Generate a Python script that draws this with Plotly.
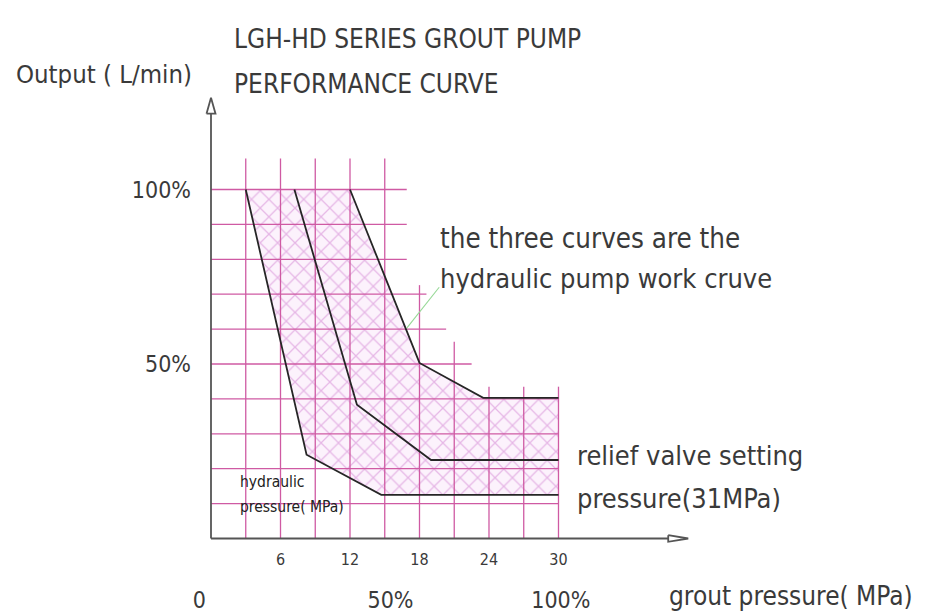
import plotly.graph_objects as go

# ---------------- data (MPa on x, % of max output on y) ----------------
curve_a_x = [3.0, 8.25, 14.7, 30.0]
curve_a_y = [100, 24.0, 12.5, 12.5]
curve_b_x = [7.2, 12.6, 19.0, 30.0]
curve_b_y = [100, 38.3, 22.5, 22.5]
curve_c_x = [12.0, 18.0, 23.5, 30.0]
curve_c_y = [100, 50.3, 40.3, 40.3]

grid_h_levels = [100, 90, 80, 70, 60, 50, 40, 30, 20, 10]
grid_h_ends = [16.9, 16.9, 16.9, 18.6, 20.3, 22.5, 30, 30, 30, 30]
grid_v_positions = [3, 6, 9, 12, 15, 18, 21, 24, 27, 30]
grid_v_tops = [108.9, 108.9, 108.9, 108.9, 108.9, 72.6, 56.4, 43.5, 43.5, 43.5]

x_tick_vals = [6, 12, 18, 24, 30]
x_tick_text = ["6", "12", "18", "24", "30"]
y_tick_vals = [100, 50]
y_tick_text = ["100%", "50%"]
pct_tick_vals = [-1.0, 15.5, 30.2]
pct_tick_text = ["0", "50%", "100%"]

leader_x = [16.9, 19.7]
leader_y = [60.3, 72.0]

x_axis_end = 41.2     # MPa where the x arrow tip sits
y_axis_end = 126.3    # % where the y arrow tip sits

# ---------------- layout geometry ----------------
# the page body keeps an 8px margin, so the figure is 8px smaller than the window
W, H = 933, 606
X0_PX, PX_PER_X = 203.0, 11.583
Y0_PX, PX_PER_Y = 530.5, 3.49
x_range = [-X0_PX / PX_PER_X, (W - X0_PX) / PX_PER_X]
y_range = [-(H - Y0_PX) / PX_PER_Y, Y0_PX / PX_PER_Y]

FONT = "Liberation Sans Narrow, DejaVu Sans Condensed, Liberation Sans, sans-serif"
TXT = "#3a3a3a"
GRID = "#cf5aa3"
HATCH = "#cf7ccf"
CURVE = "#262626"
AXIS = "#555555"

fig = go.Figure()

# hatched envelope between the lowest and highest curve
poly_x = curve_a_x + curve_c_x[::-1] + [curve_a_x[0]]
poly_y = curve_a_y + curve_c_y[::-1] + [curve_a_y[0]]
fig.add_trace(go.Scatter(
    x=poly_x, y=poly_y, mode="lines", fill="toself",
    line=dict(width=0, color="rgba(0,0,0,0)"),
    fillcolor="#fcf2fc",
    fillpattern=dict(shape="x", fgcolor=HATCH, bgcolor="#fcf2fc", size=12.3, solidity=0.2),
    hoverinfo="skip", showlegend=False))

# grid
gx, gy = [], []
for lvl, end in zip(grid_h_levels, grid_h_ends):
    gx += [0, end, None]
    gy += [lvl, lvl, None]
for pos, top in zip(grid_v_positions, grid_v_tops):
    gx += [pos, pos, None]
    gy += [0, top, None]
fig.add_trace(go.Scatter(x=gx, y=gy, mode="lines", line=dict(color=GRID, width=1.3),
                         hoverinfo="skip", showlegend=False))

# curves
for cx, cy in [(curve_a_x, curve_a_y), (curve_b_x, curve_b_y), (curve_c_x, curve_c_y)]:
    fig.add_trace(go.Scatter(x=cx, y=cy, mode="lines", line=dict(color=CURVE, width=1.8),
                             hoverinfo="skip", showlegend=False))

# leader line
fig.add_trace(go.Scatter(x=leader_x, y=leader_y, mode="lines", line=dict(color="#96d896", width=1.1),
                         hoverinfo="skip", showlegend=False))

# axis lines with open arrow heads
xa_len = 20 / PX_PER_X
xa_half = 3.3 / PX_PER_Y
ya_len = 16 / PX_PER_Y
ya_half = 4.5 / PX_PER_X
fig.add_trace(go.Scatter(
    x=[0, x_axis_end - xa_len, None, 0, 0, None,
       x_axis_end - xa_len, x_axis_end, x_axis_end - xa_len, x_axis_end - xa_len, None,
       -ya_half, 0, ya_half, -ya_half],
    y=[0, 0, None, 0, y_axis_end - ya_len, None,
       xa_half, 0, -xa_half, xa_half, None,
       y_axis_end - ya_len, y_axis_end, y_axis_end - ya_len, y_axis_end - ya_len],
    mode="lines", line=dict(color=AXIS, width=1.8), hoverinfo="skip", showlegend=False))

# dummy trace for the percentage axis
fig.add_trace(go.Scatter(x=pct_tick_vals, y=[0] * len(pct_tick_vals), xaxis="x2", mode="markers",
                         marker=dict(opacity=0), hoverinfo="skip", showlegend=False))

def ann(text, x, y, size, anchor="left", color=TXT):
    fig.add_annotation(text=text, x=x, y=y, xref="x", yref="y", xanchor=anchor, yanchor="middle",
                       showarrow=False, font=dict(family=FONT, size=size, color=color))

ann("LGH-HD SERIES GROUT PUMP", 1.8, 143.1, 26)
ann("PERFORMANCE CURVE", 1.8, 130.2, 26)
ann("Output ( L/min)", -17.0, 133.1, 25.5)
ann("the three curves are the", 19.6, 86.1, 27.5)
ann("hydraulic pump work cruve", 19.6, 74.6, 27)
ann("relief valve setting", 31.4, 23.9, 27)
ann("pressure(31MPa)", 31.4, 11.6, 27)
ann("grout pressure( MPa)", 39.4, -16.6, 26)
ann("hydraulic", 2.33, 16.2, 15.5, color="#222222")
ann("pressure( MPa)", 2.33, 9.0, 15.5, color="#222222")

fig.update_layout(
    width=W, height=H, autosize=False,
    margin=dict(l=0, r=0, t=0, b=0, pad=0),
    paper_bgcolor="white", plot_bgcolor="white",
    showlegend=False,
    xaxis=dict(range=x_range, anchor="free", position=(H - Y0_PX) / H, showline=False,
               showgrid=False, zeroline=False, ticks="", tickvals=x_tick_vals, ticktext=x_tick_text,
               ticklabelstandoff=9, tickfont=dict(family=FONT, size=16, color=TXT),
               automargin=False, fixedrange=True),
    xaxis2=dict(range=x_range, overlaying="x", anchor="free", position=(H - Y0_PX) / H, side="bottom",
                showline=False, showgrid=False, zeroline=False, ticks="", tickvals=pct_tick_vals,
                ticktext=pct_tick_text, ticklabelstandoff=45,
                tickfont=dict(family=FONT, size=23, color=TXT), automargin=False, fixedrange=True),
    yaxis=dict(range=y_range, anchor="free", position=X0_PX / W, showline=False, showgrid=False,
               zeroline=False, ticks="", tickvals=y_tick_vals, ticktext=y_tick_text,
               ticklabelstandoff=20, tickfont=dict(family=FONT, size=23, color=TXT),
               automargin=False, fixedrange=True),
)

fig.write_html("out.html")
